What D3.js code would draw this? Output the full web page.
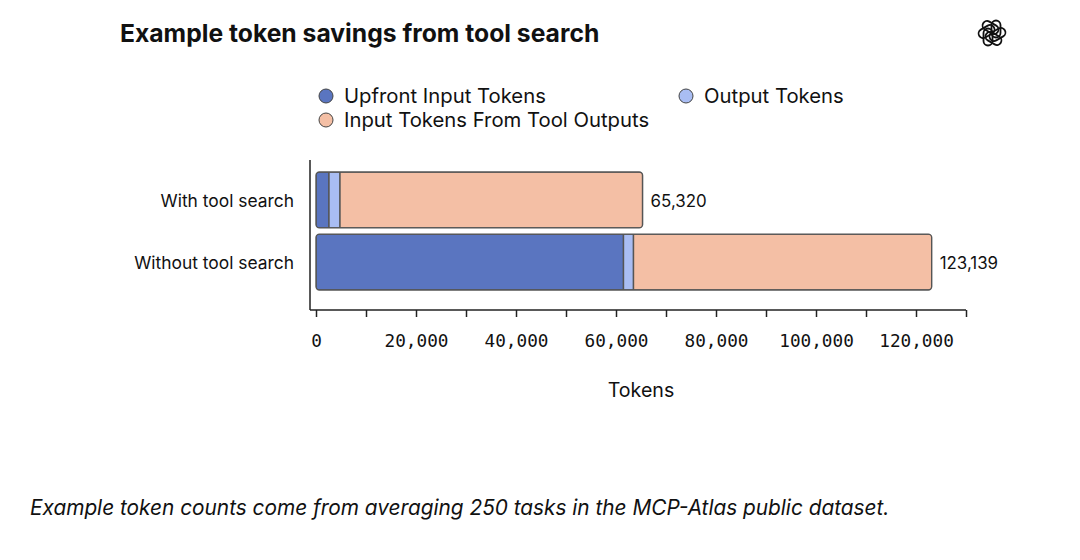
<!DOCTYPE html>
<html>
<head>
<meta charset="utf-8">
<script src="https://cdn.jsdelivr.net/npm/d3@7"></script>
<style>
  html, body { margin: 0; padding: 0; background: #fff; }
  svg { display: block; }
  text { font-family: Inter, "Noto Sans", sans-serif; fill: #111; }
</style>
</head>
<body>
<div id="chart"></div>
<script>
// ---------- data ----------
const CATEGORIES = ["With tool search", "Without tool search"];
const SERIES = ["Upfront Input Tokens", "Output Tokens", "Input Tokens From Tool Outputs"];
const UPFRONT = [2600, 61500];
const OUTPUT = [2200, 2000];
const TOOL_OUTPUTS = [60520, 59639];
const TOTALS = [65320, 123139];
const X_TICKS = [0, 10000, 20000, 30000, 40000, 50000, 60000, 70000, 80000, 90000, 100000, 110000, 120000, 130000];
const X_LABELED = [0, 20000, 40000, 60000, 80000, 100000, 120000];

const COLORS = ["#5a75c0", "#a9bdf3", "#f4bfa5"];
const STROKE = "#555";

const width = 1080, height = 560;

const svg = d3.select("#chart").append("svg")
  .attr("width", width)
  .attr("height", height);

svg.append("rect").attr("width", width).attr("height", height).attr("fill", "#fff");

// title
svg.append("text")
  .attr("x", 120).attr("y", 42)
  .attr("font-size", 24.7)
  .attr("font-weight", 700)
  .text("Example token savings from tool search");

// logo (rough knot)
const logo = svg.append("g").attr("transform", "translate(992,33)");
d3.range(6).forEach(i => {
  logo.append("rect")
    .attr("x", -0.5).attr("y", -12.5)
    .attr("width", 9).attr("height", 17)
    .attr("rx", 4.5)
    .attr("fill", "none")
    .attr("stroke", "#111")
    .attr("stroke-width", 1.8)
    .attr("transform", `rotate(${i * 60})`);
});

// legend
const legendItems = [
  { name: SERIES[0], color: COLORS[0], x: 326, y: 96 },
  { name: SERIES[1], color: COLORS[1], x: 686, y: 96 },
  { name: SERIES[2], color: COLORS[2], x: 326, y: 120 }
];
const legend = svg.append("g");
legendItems.forEach(d => {
  legend.append("circle")
    .attr("cx", d.x).attr("cy", d.y).attr("r", 7)
    .attr("fill", d.color)
    .attr("stroke", "#444").attr("stroke-width", 1);
  legend.append("text")
    .attr("x", d.x + 18).attr("y", d.y)
    .attr("dy", "0.35em")
    .attr("font-size", 20.3)
    .text(d.name);
});

// scales
const x = d3.scaleLinear().domain([0, 130000]).range([316, 966]);
const y = d3.scaleBand().domain(CATEGORIES).range([172, 290]).paddingInner(0.1).paddingOuter(0);

// stacked data
const rows = CATEGORIES.map((c, i) => ({
  cat: c, upfront: UPFRONT[i], output: OUTPUT[i], tool: TOOL_OUTPUTS[i], total: TOTALS[i]
}));
const stack = d3.stack().keys(["upfront", "output", "tool"])(rows);

const defs = svg.append("defs");
rows.forEach((r, i) => {
  defs.append("clipPath").attr("id", `clip-${i}`)
    .append("rect")
    .attr("x", x(0)).attr("y", y(r.cat))
    .attr("width", x(r.total) - x(0)).attr("height", y.bandwidth())
    .attr("rx", 3.5);
});

const barsG = svg.append("g");
stack.forEach((layer, k) => {
  layer.forEach((seg, i) => {
    barsG.append("rect")
      .attr("clip-path", `url(#clip-${i})`)
      .attr("x", x(seg[0]))
      .attr("y", y(seg.data.cat))
      .attr("width", x(seg[1]) - x(seg[0]))
      .attr("height", y.bandwidth())
      .attr("fill", COLORS[k])
      .attr("stroke", STROKE)
      .attr("stroke-width", 1.4);
  });
});
rows.forEach(r => {
  barsG.append("rect")
    .attr("x", x(0)).attr("y", y(r.cat))
    .attr("width", x(r.total) - x(0)).attr("height", y.bandwidth())
    .attr("rx", 3.5)
    .attr("fill", "none")
    .attr("stroke", STROKE)
    .attr("stroke-width", 1.4);
  barsG.append("text")
    .attr("x", x(r.total) + 8)
    .attr("y", y(r.cat) + y.bandwidth() / 2 + 1)
    .attr("dy", "0.35em")
    .attr("font-size", 16.9)
    .text(d3.format(",")(r.total));
});

// y labels
svg.append("g").selectAll("text")
  .data(CATEGORIES)
  .join("text")
  .attr("x", 294)
  .attr("y", d => y(d) + y.bandwidth() / 2 + 1)
  .attr("dy", "0.35em")
  .attr("text-anchor", "end")
  .attr("font-size", 17.4)
  .text(d => d);

// y spine
svg.append("line")
  .attr("x1", 310).attr("x2", 310)
  .attr("y1", 160).attr("y2", 310)
  .attr("stroke", "#222").attr("stroke-width", 1.5);

// x axis
const xAxis = d3.axisBottom(x)
  .tickValues(X_TICKS)
  .tickSize(7)
  .tickSizeOuter(0)
  .tickPadding(17)
  .tickFormat(v => X_LABELED.includes(v) ? d3.format(",")(v) : "");

const axG = svg.append("g")
  .attr("transform", "translate(0,310)")
  .call(xAxis);
axG.select(".domain").remove();
axG.selectAll(".tick line").attr("stroke", "#222").attr("stroke-width", 1.5);
axG.selectAll(".tick text")
  .attr("font-size", 17.7)
  .attr("fill", "#111")
  .style("font-family", "'DejaVu Sans Mono', monospace");
axG.append("line")
  .attr("x1", 310).attr("x2", x(130000))
  .attr("y1", 0).attr("y2", 0)
  .attr("stroke", "#222").attr("stroke-width", 1.5);

// x title
svg.append("text")
  .attr("x", 641).attr("y", 397)
  .attr("text-anchor", "middle")
  .attr("font-size", 19.6)
  .text("Tokens");

// footnote
svg.append("text")
  .attr("x", 30).attr("y", 515)
  .attr("font-size", 20.8)
  .attr("font-style", "italic")
  .text("Example token counts come from averaging 250 tasks in the MCP-Atlas public dataset.");
</script>
</body>
</html>
